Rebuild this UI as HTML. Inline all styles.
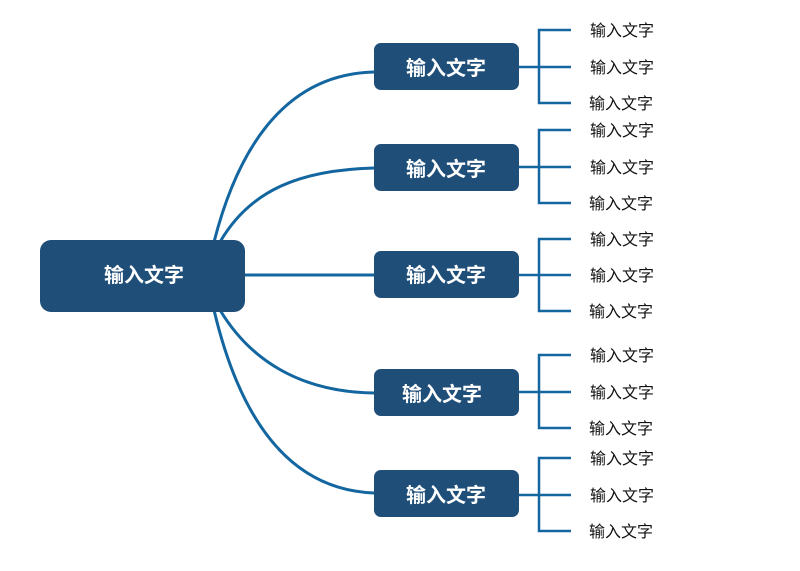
<!DOCTYPE html>
<html><head><meta charset="utf-8"><style>
body{margin:0;background:#fff;width:800px;height:566px;overflow:hidden}
svg text{font-family:"Liberation Sans","Noto Sans CJK SC",sans-serif}
</style></head><body>
<svg width="800" height="566" viewBox="0 0 800 566">
<g fill="none" stroke="#13669f" stroke-width="3">
<path d="M214 242 C240 140 290 74 374 72"/>
<path d="M220 242 C250 190 300 170 374 168"/>
<path d="M245 275 L374 275"/>
<path d="M220 310 C250 360 300 392 374 393"/>
<path d="M214 310 C240 420 290 490 374 493"/>
<g stroke-width="2.5">
<path d="M519 67 H571 M571 30 H539 V103 H571"/>
<path d="M519 167 H571 M571 130 H539 V203 H571"/>
<path d="M519 275 H571 M571 239 H539 V311 H571"/>
<path d="M519 392 H571 M571 355 H539 V428 H571"/>
<path d="M519 495 H571 M571 458 H539 V531 H571"/>
</g>
</g>
<g fill="#1f4e79">
<rect x="40" y="240" width="205" height="72" rx="11"/>
<rect x="374" y="43" width="145" height="47" rx="7"/>
<rect x="374" y="144" width="145" height="47" rx="7"/>
<rect x="374" y="251" width="145" height="47" rx="7"/>
<rect x="374" y="369" width="145" height="47" rx="7"/>
<rect x="374" y="470" width="145" height="47" rx="7"/>
</g>
<g fill="#fff" font-weight="bold" font-size="20" text-anchor="middle">
<text x="144" y="282">输入文字</text>
<text x="446" y="75">输入文字</text>
<text x="446" y="176">输入文字</text>
<text x="446" y="282">输入文字</text>
<text x="442" y="401">输入文字</text>
<text x="446" y="502">输入文字</text>
</g>
<g fill="#111" font-size="16">
<text x="590" y="36">输入文字</text><text x="590" y="73">输入文字</text><text x="589" y="109">输入文字</text>
<text x="590" y="136">输入文字</text><text x="590" y="173">输入文字</text><text x="589" y="209">输入文字</text>
<text x="590" y="245">输入文字</text><text x="590" y="281">输入文字</text><text x="589" y="317">输入文字</text>
<text x="590" y="361">输入文字</text><text x="590" y="398">输入文字</text><text x="589" y="434">输入文字</text>
<text x="590" y="464">输入文字</text><text x="590" y="501">输入文字</text><text x="589" y="537">输入文字</text>
</g>
</svg>
</body></html>
